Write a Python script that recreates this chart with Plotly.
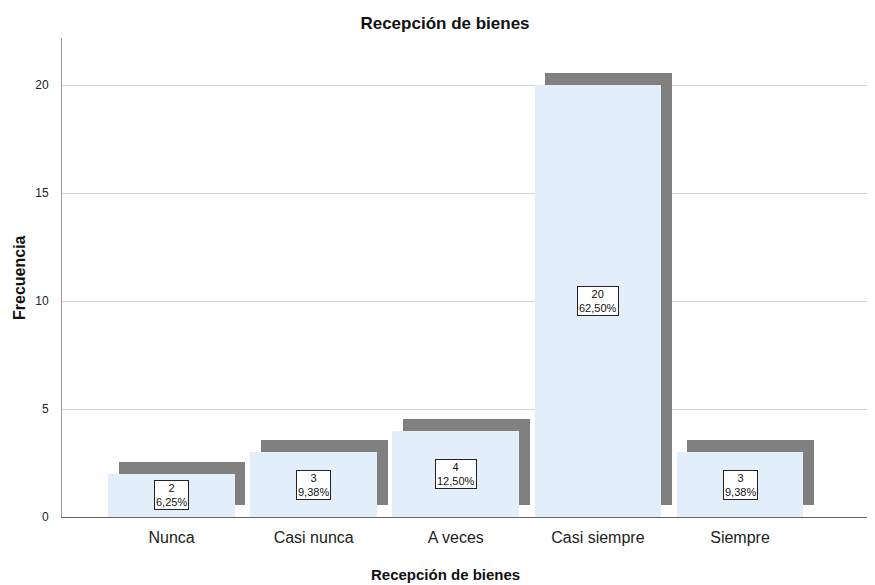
import plotly.graph_objects as go

categories = ["Nunca", "Casi nunca", "A veces", "Casi siempre", "Siempre"]
counts = [2, 3, 4, 20, 3]
percents = ["6,25%", "9,38%", "12,50%", "62,50%", "9,38%"]
y_ticks = [0, 5, 10, 15, 20]

BAR_W = 0.892
SHIFT_X = 0.074
SHIFT_Y = 0.555
FONT = "Liberation Sans, Arial, sans-serif"

# the page puts the figure 8px in from the top-left corner
W, H = 867, 577
L, T, B = 54, 30, 68
PW = W - L

xs = list(range(len(categories)))

fig = go.Figure()

# shadow, shifted up and right
fig.add_trace(go.Bar(
    x=[i + SHIFT_X for i in xs], y=counts, base=[SHIFT_Y] * len(xs),
    width=BAR_W, marker=dict(color="#808080", line=dict(width=0)),
    hoverinfo="skip", showlegend=False,
))
fig.add_trace(go.Bar(
    x=xs, y=counts, width=BAR_W,
    marker=dict(color="#E2EEFA", line=dict(width=0)),
    showlegend=False,
))

for i, (c, p) in enumerate(zip(counts, percents)):
    fig.add_annotation(
        x=i, y=c / 2, text=f"{c}<br>{p}", showarrow=False,
        font=dict(family=FONT, size=11, color="#111"),
        bgcolor="white", bordercolor="#222", borderwidth=1, borderpad=1,
    )

fig.add_annotation(
    text="<b>Frecuencia</b>", xref="paper", yref="paper", x=-L / PW, y=0.5,
    xanchor="left", yanchor="middle", textangle=-90, showarrow=False,
    font=dict(family=FONT, size=16, color="#111"), xshift=1,
)
fig.add_annotation(
    text="<b>Recepción de bienes</b>", xref="paper", yref="paper",
    x=(437 - L) / PW, y=0, yshift=-57, yanchor="middle", showarrow=False,
    font=dict(family=FONT, size=15, color="#111"),
)

fig.update_layout(
    width=W, height=H,
    margin=dict(l=L, r=0, t=T, b=B),
    plot_bgcolor="white", paper_bgcolor="white",
    barmode="overlay", bargap=0,
    title=dict(text="<b>Recepción de bienes</b>", x=437 / W, xanchor="center",
               y=1 - 15 / H, yanchor="middle",
               font=dict(family=FONT, size=17, color="#111")),
    font=dict(family=FONT, color="#222"),
)
fig.update_xaxes(
    range=[-0.771, 4.95], tickvals=xs, ticktext=categories,
    showgrid=False, zeroline=False, showline=True, linecolor="#666", linewidth=1,
    ticks="", tickfont=dict(family=FONT, size=16, color="#222"),
    ticklabelstandoff=6,
)
fig.update_yaxes(
    range=[0, 22.18], tickvals=y_ticks, showgrid=True, gridcolor="#D4D4D4",
    gridwidth=1, zeroline=False, showline=True, linecolor="#999", linewidth=1,
    ticks="", tickfont=dict(family=FONT, size=12, color="#222"),
    ticklabelstandoff=10,
)

fig.write_html("out.html")
